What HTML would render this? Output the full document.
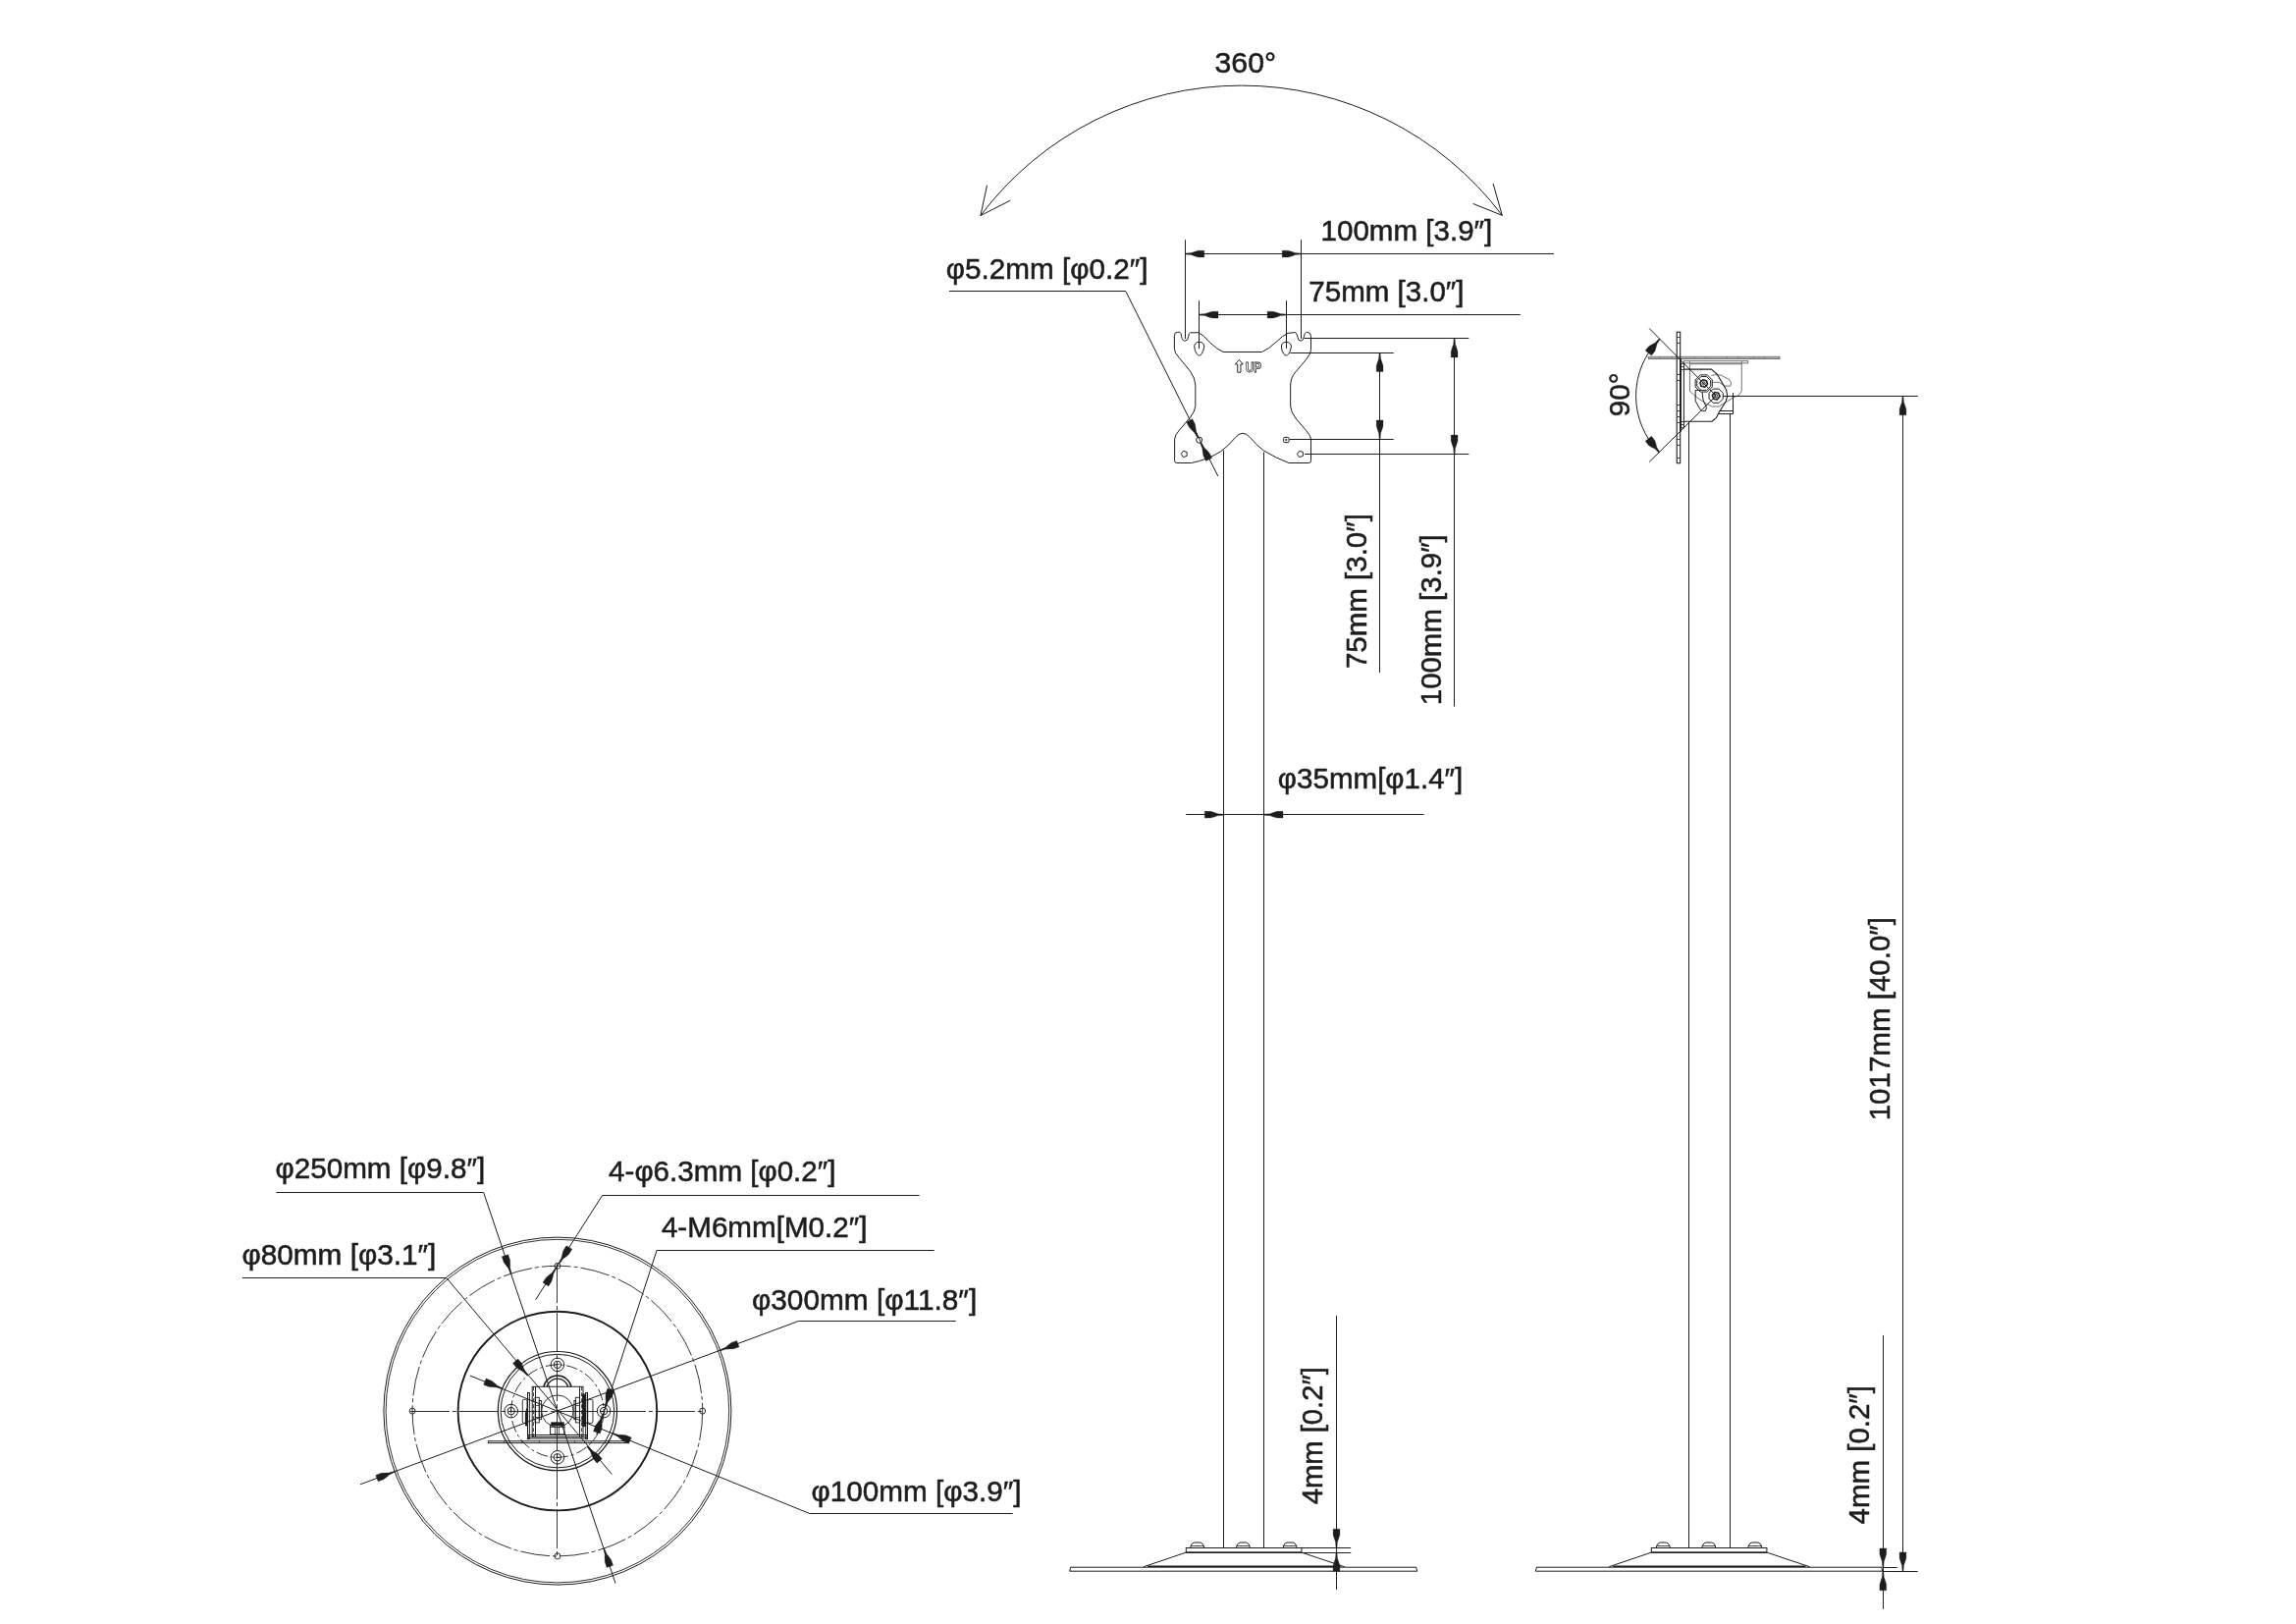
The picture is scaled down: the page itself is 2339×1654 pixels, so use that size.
<!DOCTYPE html>
<html><head><meta charset="utf-8"><title>Dimensions</title>
<style>
html,body{margin:0;padding:0;background:#fff;}
body{width:2339px;height:1654px;overflow:hidden;font-family:"Liberation Sans",sans-serif;}
svg{display:block;}
svg{filter:grayscale(1);}
svg text{font-family:"Liberation Sans",sans-serif;fill:#1d1d1d;stroke:#1d1d1d;stroke-width:0.55px;}
</style></head><body>
<svg width="2339" height="1654" viewBox="0 0 2339 1654">
<rect x="0" y="0" width="2339" height="1654" fill="#ffffff"/>
<path d="M998.9 219.6 A332.8 332.8 0 0 1 1530.3 219.4" fill="none" stroke="#1d1d1d" stroke-width="1.0" stroke-linejoin="round"/>
<polyline points="1005.5,188.7 998.9,219.6 1029.4,204.1" fill="none" stroke="#1d1d1d" stroke-width="1.0" stroke-linejoin="round"/>
<polyline points="1521.1,187 1530.3,219.4 1500.6,207.4" fill="none" stroke="#1d1d1d" stroke-width="1.0" stroke-linejoin="round"/>
<text x="1237.55" y="73.5" font-size="29.6" text-anchor="start" textLength="62.46" lengthAdjust="spacingAndGlyphs">360°</text>
<path d="M1196.33 341.75 Q1196.33 338.3 1199.78 338.3 L1201.75 338.3 Q1203.23 338.79 1203.52 342.24 Q1204.21 347.17 1207.17 347.17 Q1210.42 346.87 1210.81 342.73 Q1210.81 339.29 1212.59 338.79 L1220.96 338.79 Q1226.38 341.26 1232.29 348.65 Q1240.17 356.03 1246.08 358.5 L1285.49 358.5 Q1292.39 355.54 1300.27 348.15 Q1307.17 341.26 1312.09 339.29 L1319.48 338.6 Q1321.45 339.29 1321.95 343.23 Q1322.44 347.17 1325.1 347.17 Q1328.05 346.87 1328.45 342.73 Q1328.84 338.3 1331.8 338.3 Q1335.54 338.79 1335.54 342.73 L1335.54 356.53 Q1335.25 360.47 1330.81 365.89 L1319.98 378.69 Q1315.05 384.11 1314.66 392 L1314.66 413.67 Q1315.25 420.07 1319.98 425.99 L1330.81 438.79 Q1335.25 443.72 1335.54 447.17 L1335.54 469.33 Q1335.54 471.5 1333.28 471.5 L1313.08 471.5 Q1300.27 466.87 1287.46 458.99 Q1279.58 453.08 1273.67 445.69 Q1269.73 441.26 1265.79 441.26 Q1261.85 441.45 1258.4 445.69 Q1252 453.57 1244.11 459.48 Q1230.32 468.35 1213.57 471.5 L1198.79 471.5 Q1196.63 471.5 1196.63 469.33 L1196.63 447.17 Q1196.82 443.23 1201.26 438.3 L1212.59 425 Q1217.51 418.6 1217.81 413.67 L1217.81 392 Q1217.51 385.1 1212.59 378.2 L1201.26 364.41 Q1196.63 359.48 1196.43 355.54 Z" fill="none" stroke="#1d1d1d" stroke-width="1.0" stroke-linejoin="round"/>
<path d="M1216.72 353.08 Q1216.92 348.45 1221.65 348.25 Q1226.58 348.45 1226.77 353.08 Q1226.08 357.51 1224.11 360.47 Q1221.65 363.62 1219.19 360.47 Q1216.92 357.51 1216.72 353.08 Z" fill="none" stroke="#1d1d1d" stroke-width="1.0" stroke-linejoin="round"/>
<path d="M1305.39 353.08 Q1305.59 348.45 1310.32 348.25 Q1315.25 348.45 1315.44 353.08 Q1314.75 357.51 1312.78 360.47 Q1310.32 363.62 1307.86 360.47 Q1305.59 357.51 1305.39 353.08 Z" fill="none" stroke="#1d1d1d" stroke-width="1.0" stroke-linejoin="round"/>
<circle cx="1221.65" cy="448.15" r="3" fill="none" stroke="#1d1d1d" stroke-width="1.0"/>
<rect x="1307.66" y="445.39" width="5.42" height="5.22" rx="1.2" fill="none" stroke="#1d1d1d" stroke-width="1"/>
<circle cx="1310.32" cy="447.96" r="0.6" fill="#1d1d1d" stroke="#1d1d1d" stroke-width="1.0"/>
<polygon points="1203.18,462.44 1205.46,459.3 1209.15,460.5 1209.15,464.38 1205.46,465.58" fill="none" stroke="#1d1d1d" stroke-width="1.0" stroke-linejoin="round"/>
<polygon points="1321.4,462.44 1323.68,459.3 1327.37,460.5 1327.37,464.38 1323.68,465.58" fill="none" stroke="#1d1d1d" stroke-width="1.0" stroke-linejoin="round"/>
<path d="M1262.34 366.38 L1266.34 370.98 L1263.94 370.98 L1263.94 379.19 L1260.74 379.19 L1260.74 370.98 L1258.34 370.98 Z" fill="none" stroke="#1d1d1d" stroke-width="0.95" stroke-linejoin="round"/>
<text x="1268.94" y="378.69" font-size="14.5" font-weight="bold" style="fill:#fff;stroke:#1d1d1d;stroke-width:0.85px" textLength="16.2" lengthAdjust="spacingAndGlyphs">UP</text>
<line x1="1246.5" y1="458.5" x2="1246.5" y2="1576.5" stroke="#1d1d1d" stroke-width="1.0"/>
<line x1="1287.5" y1="460.5" x2="1287.5" y2="1576.5" stroke="#1d1d1d" stroke-width="1.0"/>
<line x1="1207.5" y1="244.3" x2="1207.5" y2="345" stroke="#1d1d1d" stroke-width="1.0"/>
<line x1="1325.5" y1="244.3" x2="1325.5" y2="345" stroke="#1d1d1d" stroke-width="1.0"/>
<line x1="1207.5" y1="258.5" x2="1583" y2="258.5" stroke="#1d1d1d" stroke-width="1.0"/>
<polygon points="1207.5,258.09 1213.68,257.58 1216.38,256.56 1220.82,255.2 1226.8,255.2 1226.8,262 1220.82,262 1216.38,260.64 1213.68,259.62 1207.5,259.11" fill="#1d1d1d" stroke="#1d1d1d" stroke-width="0.3"/>
<polygon points="1325.5,259.11 1319.32,259.62 1316.62,260.64 1312.18,262 1306.2,262 1306.2,255.2 1312.18,255.2 1316.62,256.56 1319.32,257.58 1325.5,258.09" fill="#1d1d1d" stroke="#1d1d1d" stroke-width="0.3"/>
<text x="1345.55" y="244.6" font-size="29.6" text-anchor="start" textLength="174.76" lengthAdjust="spacingAndGlyphs">100mm [3.9″]</text>
<line x1="1221.5" y1="306.2" x2="1221.5" y2="355" stroke="#1d1d1d" stroke-width="1.0"/>
<line x1="1310.5" y1="306.2" x2="1310.5" y2="355" stroke="#1d1d1d" stroke-width="1.0"/>
<line x1="1221.7" y1="320.5" x2="1548.8" y2="320.5" stroke="#1d1d1d" stroke-width="1.0"/>
<polygon points="1221.7,320.09 1227.88,319.58 1230.58,318.56 1235.02,317.2 1241,317.2 1241,324 1235.02,324 1230.58,322.64 1227.88,321.62 1221.7,321.11" fill="#1d1d1d" stroke="#1d1d1d" stroke-width="0.3"/>
<polygon points="1310.4,321.11 1304.22,321.62 1301.52,322.64 1297.08,324 1291.1,324 1291.1,317.2 1297.08,317.2 1301.52,318.56 1304.22,319.58 1310.4,320.09" fill="#1d1d1d" stroke="#1d1d1d" stroke-width="0.3"/>
<text x="1333.29" y="306.5" font-size="29.6" text-anchor="start" textLength="158.22" lengthAdjust="spacingAndGlyphs">75mm [3.0″]</text>
<line x1="1328.5" y1="344.5" x2="1496.4" y2="344.5" stroke="#1d1d1d" stroke-width="1.0"/>
<line x1="1314.4" y1="359.5" x2="1419.7" y2="359.5" stroke="#1d1d1d" stroke-width="1.0"/>
<line x1="1313.5" y1="447.5" x2="1419.7" y2="447.5" stroke="#1d1d1d" stroke-width="1.0"/>
<line x1="1329" y1="462.5" x2="1496.4" y2="462.5" stroke="#1d1d1d" stroke-width="1.0"/>
<line x1="1405.5" y1="359.3" x2="1405.5" y2="685.1" stroke="#1d1d1d" stroke-width="1.0"/>
<polygon points="1406.11,359.3 1406.62,365.48 1407.64,368.18 1409,372.62 1409,378.6 1402.2,378.6 1402.2,372.62 1403.56,368.18 1404.58,365.48 1405.09,359.3" fill="#1d1d1d" stroke="#1d1d1d" stroke-width="0.3"/>
<polygon points="1405.09,447.2 1404.58,441.02 1403.56,438.32 1402.2,433.88 1402.2,427.9 1409,427.9 1409,433.88 1407.64,438.32 1406.62,441.02 1406.11,447.2" fill="#1d1d1d" stroke="#1d1d1d" stroke-width="0.3"/>
<line x1="1481.5" y1="344.7" x2="1481.5" y2="719.5" stroke="#1d1d1d" stroke-width="1.0"/>
<polygon points="1482.11,344.7 1482.62,350.88 1483.64,353.58 1485,358.02 1485,364 1478.2,364 1478.2,358.02 1479.56,353.58 1480.58,350.88 1481.09,344.7" fill="#1d1d1d" stroke="#1d1d1d" stroke-width="0.3"/>
<polygon points="1481.09,462.4 1480.58,456.22 1479.56,453.52 1478.2,449.08 1478.2,443.1 1485,443.1 1485,449.08 1483.64,453.52 1482.62,456.22 1482.11,462.4" fill="#1d1d1d" stroke="#1d1d1d" stroke-width="0.3"/>
<text x="1392" y="681.11" font-size="29.6" text-anchor="start" transform="rotate(-90 1392 681.11)" textLength="158.02" lengthAdjust="spacingAndGlyphs">75mm [3.0″]</text>
<text x="1467.6" y="718.24" font-size="29.6" text-anchor="start" transform="rotate(-90 1467.6 718.24)" textLength="174.04" lengthAdjust="spacingAndGlyphs">100mm [3.9″]</text>
<text x="963.77" y="283.5" font-size="29.6" text-anchor="start" textLength="205.65" lengthAdjust="spacingAndGlyphs">φ5.2mm [φ0.2″]</text>
<line x1="967" y1="296.5" x2="1146.8" y2="296.5" stroke="#1d1d1d" stroke-width="1.0"/>
<line x1="1146.8" y1="296.6" x2="1240.8" y2="485" stroke="#1d1d1d" stroke-width="1.0"/>
<polygon points="1219.85,445.7 1216.64,440.4 1214.52,438.43 1211.32,435.07 1208.65,429.72 1214.74,426.68 1217.41,432.03 1218.17,436.61 1218.47,439.49 1220.77,445.24" fill="#1d1d1d" stroke="#1d1d1d" stroke-width="0.3"/>
<polygon points="1223.45,450.61 1226.66,455.91 1228.78,457.87 1231.98,461.24 1234.65,466.59 1228.56,469.62 1225.89,464.27 1225.13,459.69 1224.83,456.82 1222.53,451.06" fill="#1d1d1d" stroke="#1d1d1d" stroke-width="0.3"/>
<text x="1301.87" y="803.3" font-size="29.6" text-anchor="start" textLength="188.43" lengthAdjust="spacingAndGlyphs">φ35mm[φ1.4″]</text>
<line x1="1208.2" y1="829.5" x2="1450.5" y2="829.5" stroke="#1d1d1d" stroke-width="1.0"/>
<polygon points="1246.6,830.21 1240.42,830.72 1237.72,831.74 1233.28,833.1 1227.3,833.1 1227.3,826.3 1233.28,826.3 1237.72,827.66 1240.42,828.68 1246.6,829.19" fill="#1d1d1d" stroke="#1d1d1d" stroke-width="0.3"/>
<polygon points="1287.7,829.19 1293.88,828.68 1296.58,827.66 1301.02,826.3 1307,826.3 1307,833.1 1301.02,833.1 1296.58,831.74 1293.88,830.72 1287.7,830.21" fill="#1d1d1d" stroke="#1d1d1d" stroke-width="0.3"/>
<path d="M1090.7 1596.2 L1442.7 1596.2 L1443.7 1600.2 L1089.7 1600.2 Z" fill="none" stroke="#1d1d1d" stroke-width="1.0" stroke-linejoin="round"/>
<line x1="1169.2" y1="1595.3" x2="1365.6" y2="1595.3" stroke="#1d1d1d" stroke-width="1.6"/>
<line x1="1165.2" y1="1595.7" x2="1208.3" y2="1581.1" stroke="#1d1d1d" stroke-width="1.0"/>
<line x1="1325.9" y1="1581.1" x2="1369.6" y2="1595.7" stroke="#1d1d1d" stroke-width="1.0"/>
<rect x="1208.3" y="1576.5" width="117.6" height="4.6" fill="none" stroke="#1d1d1d" stroke-width="1.0"/>
<line x1="1208.3" y1="1581.3" x2="1325.9" y2="1581.3" stroke="#1d1d1d" stroke-width="1.5"/>
<path d="M1212.7 1576.5 L1213.3 1574 Q1214.7 1571 1216.7 1571 L1222.7 1571 Q1224.7 1571 1226.1 1574 L1226.7 1576.5" fill="none" stroke="#1d1d1d" stroke-width="1.0" stroke-linejoin="round"/>
<line x1="1213.3" y1="1574.5" x2="1226.1" y2="1574.5" stroke="#1d1d1d" stroke-width="0.8"/>
<path d="M1259.4 1576.5 L1260 1574 Q1261.4 1571 1263.4 1571 L1269.4 1571 Q1271.4 1571 1272.8 1574 L1273.4 1576.5" fill="none" stroke="#1d1d1d" stroke-width="1.0" stroke-linejoin="round"/>
<line x1="1260" y1="1574.5" x2="1272.8" y2="1574.5" stroke="#1d1d1d" stroke-width="0.8"/>
<path d="M1307.1 1576.5 L1307.7 1574 Q1309.1 1571 1311.1 1571 L1317.1 1571 Q1319.1 1571 1320.5 1574 L1321.1 1576.5" fill="none" stroke="#1d1d1d" stroke-width="1.0" stroke-linejoin="round"/>
<line x1="1307.7" y1="1574.5" x2="1320.5" y2="1574.5" stroke="#1d1d1d" stroke-width="0.8"/>
<line x1="1325.9" y1="1576.5" x2="1376.2" y2="1576.5" stroke="#1d1d1d" stroke-width="1.0"/>
<line x1="1325.9" y1="1581.5" x2="1376.2" y2="1581.5" stroke="#1d1d1d" stroke-width="1.0"/>
<line x1="1361.5" y1="1340.1" x2="1361.5" y2="1619" stroke="#1d1d1d" stroke-width="1.0"/>
<polygon points="1360.99,1576.5 1360.48,1570.32 1359.46,1567.62 1358.1,1563.18 1358.1,1557.2 1364.9,1557.2 1364.9,1563.18 1363.54,1567.62 1362.52,1570.32 1362.01,1576.5" fill="#1d1d1d" stroke="#1d1d1d" stroke-width="0.3"/>
<polygon points="1362.01,1581.1 1362.52,1587.28 1363.54,1589.98 1364.9,1594.42 1364.9,1600.4 1358.1,1600.4 1358.1,1594.42 1359.46,1589.98 1360.48,1587.28 1360.99,1581.1" fill="#1d1d1d" stroke="#1d1d1d" stroke-width="0.3"/>
<text x="1347.4" y="1532.17" font-size="29.6" text-anchor="start" transform="rotate(-90 1347.4 1532.17)" textLength="140.05" lengthAdjust="spacingAndGlyphs">4mm [0.2″]</text>
<rect x="1679.2" y="363.3" width="133.8" height="2.2" fill="none" stroke="#707070" stroke-width="1.0"/>
<line x1="1679.2" y1="364.5" x2="1813" y2="364.5" stroke="#707070" stroke-width="0.6"/>
<line x1="1690.5" y1="363.3" x2="1690.5" y2="365.5" stroke="#707070" stroke-width="0.8"/>
<line x1="1703.5" y1="363.3" x2="1703.5" y2="365.5" stroke="#707070" stroke-width="0.8"/>
<line x1="1726.5" y1="363.3" x2="1726.5" y2="365.5" stroke="#707070" stroke-width="0.8"/>
<line x1="1737.5" y1="363.3" x2="1737.5" y2="365.5" stroke="#707070" stroke-width="0.8"/>
<line x1="1759.5" y1="363.3" x2="1759.5" y2="365.5" stroke="#707070" stroke-width="0.8"/>
<line x1="1770.5" y1="363.3" x2="1770.5" y2="365.5" stroke="#707070" stroke-width="0.8"/>
<line x1="1786.5" y1="363.3" x2="1786.5" y2="365.5" stroke="#707070" stroke-width="0.8"/>
<line x1="1797.5" y1="363.3" x2="1797.5" y2="365.5" stroke="#707070" stroke-width="0.8"/>
<rect x="1715.4" y="367.6" width="65.3" height="2.2" fill="none" stroke="#707070" stroke-width="1.0"/>
<line x1="1721.5" y1="367.6" x2="1721.5" y2="369.8" stroke="#707070" stroke-width="0.8"/>
<line x1="1774.5" y1="367.6" x2="1774.5" y2="369.8" stroke="#707070" stroke-width="0.8"/>
<polyline points="1721.4,369.93 1721.4,398.34 1728.09,404.34 1736.87,410.35 1744.26,414.04 1751.19,414.04 1759.97,408.5 1766.89,404.34 1771.51,402.49 1774.28,398.34 1774.28,369.93" fill="none" stroke="#707070" stroke-width="1.0" stroke-linejoin="round"/>
<polyline points="1721.86,370.72 1774.05,370.72" fill="none" stroke="#707070" stroke-width="1.0" stroke-linejoin="round"/>
<polyline points="1743.34,382.4 1748.42,381.71 1753.5,382.17 1761.81,386.79 1763.66,390.02 1762.74,393.26 1757.19,393.03 1751.19,389.33 1745.18,389.33" fill="none" stroke="#707070" stroke-width="1.0" stroke-linejoin="round"/>
<rect x="1708.2" y="338.2" width="3.5" height="133.5" fill="none" stroke="#1d1d1d" stroke-width="1.1"/>
<line x1="1708.2" y1="343.5" x2="1711.7" y2="343.5" stroke="#1d1d1d" stroke-width="0.8"/>
<line x1="1708.2" y1="349.5" x2="1711.7" y2="349.5" stroke="#1d1d1d" stroke-width="0.8"/>
<line x1="1708.2" y1="381.5" x2="1711.7" y2="381.5" stroke="#1d1d1d" stroke-width="0.8"/>
<line x1="1708.2" y1="387.5" x2="1711.7" y2="387.5" stroke="#1d1d1d" stroke-width="0.8"/>
<line x1="1708.2" y1="412.5" x2="1711.7" y2="412.5" stroke="#1d1d1d" stroke-width="0.8"/>
<line x1="1708.2" y1="418.5" x2="1711.7" y2="418.5" stroke="#1d1d1d" stroke-width="0.8"/>
<line x1="1708.2" y1="424.5" x2="1711.7" y2="424.5" stroke="#1d1d1d" stroke-width="0.8"/>
<line x1="1708.2" y1="430.5" x2="1711.7" y2="430.5" stroke="#1d1d1d" stroke-width="0.8"/>
<line x1="1708.2" y1="447.5" x2="1711.7" y2="447.5" stroke="#1d1d1d" stroke-width="0.8"/>
<line x1="1708.2" y1="453.5" x2="1711.7" y2="453.5" stroke="#1d1d1d" stroke-width="0.8"/>
<line x1="1708.2" y1="466.5" x2="1711.7" y2="466.5" stroke="#1d1d1d" stroke-width="0.8"/>
<line x1="1711.9" y1="365" x2="1711.9" y2="440" stroke="#1d1d1d" stroke-width="1.6"/>
<rect x="1712.3" y="370.2" width="3.1" height="65.6" fill="none" stroke="#1d1d1d" stroke-width="1.0"/>
<line x1="1712.3" y1="376.5" x2="1715.4" y2="376.5" stroke="#1d1d1d" stroke-width="0.8"/>
<line x1="1712.3" y1="373.5" x2="1715.4" y2="373.5" stroke="#1d1d1d" stroke-width="0.8"/>
<line x1="1712.3" y1="429.5" x2="1715.4" y2="429.5" stroke="#1d1d1d" stroke-width="0.8"/>
<line x1="1712.3" y1="432.5" x2="1715.4" y2="432.5" stroke="#1d1d1d" stroke-width="0.8"/>
<polyline points="1715.39,376.17 1743.57,376.17 1749.34,381.25 1758.58,396.95 1759.73,403.42 1758.12,408.96 1751.19,420.05 1748.42,425.59 1743.8,429.28 1715.39,429.28" fill="none" stroke="#1d1d1d" stroke-width="1.1" stroke-linejoin="round"/>
<polygon points="1744.31,394.04 1739.27,399.08 1732.16,399.08 1727.12,394.04 1727.12,386.93 1732.16,381.89 1739.27,381.89 1744.31,386.93" fill="none" stroke="#1d1d1d" stroke-width="1.0" stroke-linejoin="round"/>
<polygon points="1742.65,393.36 1738.59,397.41 1732.85,397.41 1728.79,393.36 1728.79,387.61 1732.85,383.56 1738.59,383.56 1742.65,387.61" fill="none" stroke="#1d1d1d" stroke-width="1.0" stroke-linejoin="round"/>
<polygon points="1739.48,391.49 1736.73,394.25 1732.96,393.24 1731.95,389.48 1734.71,386.72 1738.47,387.73" fill="none" stroke="#1d1d1d" stroke-width="1.6" stroke-linejoin="round"/>
<circle cx="1735.72" cy="390.48" r="1.5" fill="none" stroke="#1d1d1d" stroke-width="1.0"/>
<polygon points="1755.3,406.13 1751.13,410.3 1745.24,410.3 1741.07,406.13 1741.07,400.24 1745.24,396.07 1751.13,396.07 1755.3,400.24" fill="none" stroke="#1d1d1d" stroke-width="1.0" stroke-linejoin="round"/>
<polygon points="1752.03,403.86 1749.52,406.85 1745.68,406.17 1744.35,402.51 1746.85,399.52 1750.69,400.2" fill="none" stroke="#1d1d1d" stroke-width="1.6" stroke-linejoin="round"/>
<circle cx="1748.19" cy="403.19" r="1.6" fill="none" stroke="#1d1d1d" stroke-width="1.0"/>
<polyline points="1732.71,397.41 1727.17,397.41 1727.17,408.5 1732.25,417.27 1734.56,418.66 1737.33,418.66 1738.49,415.43 1735.02,407.11 1734.1,399.72" fill="none" stroke="#1d1d1d" stroke-width="1.0" stroke-linejoin="round"/>
<line x1="1765.5" y1="400.2" x2="1765.5" y2="421.6" stroke="#1d1d1d" stroke-width="1.0"/>
<line x1="1751.7" y1="418.5" x2="1765.5" y2="418.5" stroke="#1d1d1d" stroke-width="1.0"/>
<line x1="1750.6" y1="421.5" x2="1765.5" y2="421.5" stroke="#1d1d1d" stroke-width="1.0"/>
<line x1="1720.5" y1="429.2" x2="1720.5" y2="1576.5" stroke="#1d1d1d" stroke-width="1.0"/>
<line x1="1762.5" y1="421.5" x2="1762.5" y2="1576.5" stroke="#1d1d1d" stroke-width="1.0"/>
<line x1="1755" y1="403.5" x2="1953.8" y2="403.5" stroke="#1d1d1d" stroke-width="1.0"/>
<line x1="1938.5" y1="403.5" x2="1938.5" y2="1600.2" stroke="#1d1d1d" stroke-width="1.0"/>
<polygon points="1939.01,403.5 1939.52,409.68 1940.54,412.38 1941.9,416.82 1941.9,422.8 1935.1,422.8 1935.1,416.82 1936.46,412.38 1937.48,409.68 1937.99,403.5" fill="#1d1d1d" stroke="#1d1d1d" stroke-width="0.3"/>
<polygon points="1937.99,1600.2 1937.48,1594.02 1936.46,1591.32 1935.1,1586.88 1935.1,1580.9 1941.9,1580.9 1941.9,1586.88 1940.54,1591.32 1939.52,1594.02 1939.01,1600.2" fill="#1d1d1d" stroke="#1d1d1d" stroke-width="0.3"/>
<text x="1924.6" y="1141.35" font-size="29.6" text-anchor="start" transform="rotate(-90 1924.6 1141.35)" textLength="207.35" lengthAdjust="spacingAndGlyphs">1017mm [40.0″]</text>
<line x1="1680.2" y1="334.5" x2="1748.19" y2="403.19" stroke="#1d1d1d" stroke-width="1.0"/>
<line x1="1680.2" y1="470.5" x2="1748.19" y2="403.19" stroke="#1d1d1d" stroke-width="1.0"/>
<path d="M1690.49 345.49 A81.6 81.6 0 0 0 1690.49 460.89" fill="none" stroke="#1d1d1d" stroke-width="1.0" stroke-linejoin="round"/>
<polygon points="1690.96,345.86 1687.84,350.74 1687.21,353.46 1685.89,357.7 1682.42,362.07 1676.16,357.09 1679.63,352.72 1683.46,350.48 1685.96,349.25 1690.02,345.11" fill="#1d1d1d" stroke="#1d1d1d" stroke-width="0.3"/>
<polygon points="1690.02,461.26 1685.96,457.12 1683.46,455.9 1679.63,453.65 1676.16,449.29 1682.42,444.31 1685.89,448.68 1687.21,452.91 1687.84,455.63 1690.96,460.51" fill="#1d1d1d" stroke="#1d1d1d" stroke-width="0.3"/>
<text x="1660" y="424.29" font-size="29.6" text-anchor="start" transform="rotate(-90 1660 424.29)" textLength="44.77" lengthAdjust="spacingAndGlyphs">90°</text>
<path d="M1565.4 1596.2 L1916.7 1596.2 L1917.7 1600.2 L1564.4 1600.2 Z" fill="none" stroke="#1d1d1d" stroke-width="1.0" stroke-linejoin="round"/>
<line x1="1643.2" y1="1595.3" x2="1839.5" y2="1595.3" stroke="#1d1d1d" stroke-width="1.6"/>
<line x1="1639.2" y1="1595.7" x2="1682.3" y2="1581.1" stroke="#1d1d1d" stroke-width="1.0"/>
<line x1="1799.9" y1="1581.1" x2="1843.5" y2="1595.7" stroke="#1d1d1d" stroke-width="1.0"/>
<rect x="1682.3" y="1576.5" width="117.6" height="4.6" fill="none" stroke="#1d1d1d" stroke-width="1.0"/>
<line x1="1682.3" y1="1581.3" x2="1799.9" y2="1581.3" stroke="#1d1d1d" stroke-width="1.5"/>
<path d="M1687.3 1576.5 L1687.9 1574 Q1689.3 1571 1691.3 1571 L1697.3 1571 Q1699.3 1571 1700.7 1574 L1701.3 1576.5" fill="none" stroke="#1d1d1d" stroke-width="1.0" stroke-linejoin="round"/>
<line x1="1687.9" y1="1574.5" x2="1700.7" y2="1574.5" stroke="#1d1d1d" stroke-width="0.8"/>
<path d="M1733.8 1576.5 L1734.4 1574 Q1735.8 1571 1737.8 1571 L1743.8 1571 Q1745.8 1571 1747.2 1574 L1747.8 1576.5" fill="none" stroke="#1d1d1d" stroke-width="1.0" stroke-linejoin="round"/>
<line x1="1734.4" y1="1574.5" x2="1747.2" y2="1574.5" stroke="#1d1d1d" stroke-width="0.8"/>
<path d="M1780.8 1576.5 L1781.4 1574 Q1782.8 1571 1784.8 1571 L1790.8 1571 Q1792.8 1571 1794.2 1574 L1794.8 1576.5" fill="none" stroke="#1d1d1d" stroke-width="1.0" stroke-linejoin="round"/>
<line x1="1781.4" y1="1574.5" x2="1794.2" y2="1574.5" stroke="#1d1d1d" stroke-width="0.8"/>
<line x1="1917.7" y1="1596.5" x2="1932.8" y2="1596.5" stroke="#1d1d1d" stroke-width="1.0"/>
<line x1="1917.7" y1="1600.5" x2="1953.7" y2="1600.5" stroke="#1d1d1d" stroke-width="1.0"/>
<line x1="1918.5" y1="1359.9" x2="1918.5" y2="1638.8" stroke="#1d1d1d" stroke-width="1.0"/>
<polygon points="1917.79,1596.2 1917.28,1590.02 1916.26,1587.32 1914.9,1582.88 1914.9,1576.9 1921.7,1576.9 1921.7,1582.88 1920.34,1587.32 1919.32,1590.02 1918.81,1596.2" fill="#1d1d1d" stroke="#1d1d1d" stroke-width="0.3"/>
<polygon points="1918.81,1600.4 1919.32,1606.58 1920.34,1609.28 1921.7,1613.72 1921.7,1619.7 1914.9,1619.7 1914.9,1613.72 1916.26,1609.28 1917.28,1606.58 1917.79,1600.4" fill="#1d1d1d" stroke="#1d1d1d" stroke-width="0.3"/>
<text x="1903.8" y="1552.48" font-size="29.6" text-anchor="start" transform="rotate(-90 1903.8 1552.48)" textLength="141.48" lengthAdjust="spacingAndGlyphs">4mm [0.2″]</text>
<circle cx="567.9" cy="1437.1" r="177" fill="none" stroke="#1d1d1d" stroke-width="1.0"/>
<circle cx="567.9" cy="1437.1" r="174.8" fill="none" stroke="#1d1d1d" stroke-width="0.9"/>
<circle cx="567.9" cy="1437.1" r="147.8" fill="none" stroke="#1d1d1d" stroke-width="0.9" stroke-dasharray="30 3 4 3"/>
<circle cx="567.9" cy="1437.1" r="101.3" fill="none" stroke="#1d1d1d" stroke-width="1.9"/>
<circle cx="567.9" cy="1437.1" r="60.6" fill="none" stroke="#1d1d1d" stroke-width="1.2"/>
<circle cx="567.9" cy="1437.1" r="57.8" fill="none" stroke="#1d1d1d" stroke-width="1.0"/>
<circle cx="567.9" cy="1437.1" r="47.2" fill="none" stroke="#1d1d1d" stroke-width="0.9" stroke-dasharray="12 3 3 3"/>
<circle cx="567.9" cy="1437.1" r="16.2" fill="none" stroke="#1d1d1d" stroke-width="0.9"/>
<line x1="417.9" y1="1437.5" x2="717.9" y2="1437.5" stroke="#1d1d1d" stroke-width="0.9" stroke-dasharray="40 3 4 3"/>
<line x1="567.5" y1="1287.1" x2="567.5" y2="1587.1" stroke="#1d1d1d" stroke-width="0.9" stroke-dasharray="40 3 4 3"/>
<circle cx="715.7" cy="1437.1" r="3" fill="none" stroke="#1d1d1d" stroke-width="0.9"/>
<circle cx="615.1" cy="1437.1" r="6.8" fill="none" stroke="#1d1d1d" stroke-width="1.0"/>
<circle cx="615.1" cy="1437.1" r="3.7" fill="none" stroke="#1d1d1d" stroke-width="1.0"/>
<line x1="612.7" y1="1437.5" x2="617.5" y2="1437.5" stroke="#1d1d1d" stroke-width="0.7"/>
<line x1="615.5" y1="1434.7" x2="615.5" y2="1439.5" stroke="#1d1d1d" stroke-width="0.7"/>
<circle cx="420.1" cy="1437.1" r="3" fill="none" stroke="#1d1d1d" stroke-width="0.9"/>
<circle cx="520.7" cy="1437.1" r="6.8" fill="none" stroke="#1d1d1d" stroke-width="1.0"/>
<circle cx="520.7" cy="1437.1" r="3.7" fill="none" stroke="#1d1d1d" stroke-width="1.0"/>
<line x1="518.3" y1="1437.5" x2="523.1" y2="1437.5" stroke="#1d1d1d" stroke-width="0.7"/>
<line x1="520.5" y1="1434.7" x2="520.5" y2="1439.5" stroke="#1d1d1d" stroke-width="0.7"/>
<circle cx="567.9" cy="1584.9" r="3" fill="none" stroke="#1d1d1d" stroke-width="0.9"/>
<circle cx="567.9" cy="1484.3" r="6.8" fill="none" stroke="#1d1d1d" stroke-width="1.0"/>
<circle cx="567.9" cy="1484.3" r="3.7" fill="none" stroke="#1d1d1d" stroke-width="1.0"/>
<line x1="565.5" y1="1484.5" x2="570.3" y2="1484.5" stroke="#1d1d1d" stroke-width="0.7"/>
<line x1="567.5" y1="1481.9" x2="567.5" y2="1486.7" stroke="#1d1d1d" stroke-width="0.7"/>
<circle cx="567.9" cy="1289.3" r="3" fill="none" stroke="#1d1d1d" stroke-width="0.9"/>
<circle cx="567.9" cy="1389.9" r="6.8" fill="none" stroke="#1d1d1d" stroke-width="1.0"/>
<circle cx="567.9" cy="1389.9" r="3.7" fill="none" stroke="#1d1d1d" stroke-width="1.0"/>
<line x1="565.5" y1="1389.5" x2="570.3" y2="1389.5" stroke="#1d1d1d" stroke-width="0.7"/>
<line x1="567.5" y1="1387.5" x2="567.5" y2="1392.3" stroke="#1d1d1d" stroke-width="0.7"/>
<rect x="542.21" y="1412.27" width="51.81" height="51.28" fill="none" stroke="#1d1d1d" stroke-width="1.0"/>
<line x1="545.5" y1="1412.27" x2="545.5" y2="1463.55" stroke="#1d1d1d" stroke-width="1.0"/>
<line x1="590.5" y1="1412.27" x2="590.5" y2="1463.55" stroke="#1d1d1d" stroke-width="1.0"/>
<line x1="543.5" y1="1412.27" x2="543.5" y2="1463.55" stroke="#1d1d1d" stroke-width="0.8" stroke-dasharray="4 2"/>
<line x1="592.5" y1="1412.27" x2="592.5" y2="1463.55" stroke="#1d1d1d" stroke-width="0.8" stroke-dasharray="4 2"/>
<rect x="537.5" y="1418.5" width="1.9" height="47.1" fill="none" stroke="#1d1d1d" stroke-width="1.0"/>
<rect x="596.7" y="1418.5" width="1.8" height="47.1" fill="none" stroke="#1d1d1d" stroke-width="1.0"/>
<polygon points="536.6,1434.8 537.5,1434.8 537.5,1452 535.4,1452 535.4,1440" fill="#1d1d1d" stroke="#1d1d1d" stroke-width="1.0" stroke-linejoin="round"/>
<rect x="593.6" y="1420.1" width="3" height="32.5" fill="#1d1d1d" stroke="#1d1d1d" stroke-width="1.0"/>
<rect x="538.03" y="1461.46" width="60.18" height="3.66" fill="none" stroke="#1d1d1d" stroke-width="1.0"/>
<line x1="538.03" y1="1463.5" x2="598.21" y2="1463.5" stroke="#1d1d1d" stroke-width="0.8"/>
<rect x="497.42" y="1467.74" width="142.12" height="1.88" fill="none" stroke="#1d1d1d" stroke-width="1.0"/>
<line x1="513.5" y1="1467.74" x2="513.5" y2="1469.62" stroke="#1d1d1d" stroke-width="0.7"/>
<line x1="531.5" y1="1467.74" x2="531.5" y2="1469.62" stroke="#1d1d1d" stroke-width="0.7"/>
<line x1="549.5" y1="1467.74" x2="549.5" y2="1469.62" stroke="#1d1d1d" stroke-width="0.7"/>
<line x1="585.5" y1="1467.74" x2="585.5" y2="1469.62" stroke="#1d1d1d" stroke-width="0.7"/>
<line x1="602.5" y1="1467.74" x2="602.5" y2="1469.62" stroke="#1d1d1d" stroke-width="0.7"/>
<line x1="620.5" y1="1467.74" x2="620.5" y2="1469.62" stroke="#1d1d1d" stroke-width="0.7"/>
<path d="M553.86 1412.3 A14.4 14.4 0 0 1 581.94 1412.3" fill="none" stroke="#1d1d1d" stroke-width="1.5" stroke-linejoin="round"/>
<path d="M557.06 1412.3 A11.3 11.3 0 0 1 578.74 1412.3" fill="none" stroke="#1d1d1d" stroke-width="1.3" stroke-linejoin="round"/>
<rect x="560.6" y="1451.3" width="14.3" height="9.6" fill="none" stroke="#1d1d1d" stroke-width="1.0"/>
<rect x="561.8" y="1448.9" width="12.4" height="2.4" fill="#1d1d1d" stroke="#1d1d1d" stroke-width="1.0"/>
<line x1="560.53" y1="1453.5" x2="575.18" y2="1453.5" stroke="#1d1d1d" stroke-width="0.8"/>
<line x1="565.5" y1="1453.09" x2="565.5" y2="1460.94" stroke="#1d1d1d" stroke-width="0.7"/>
<line x1="569.5" y1="1453.09" x2="569.5" y2="1460.94" stroke="#1d1d1d" stroke-width="0.7"/>
<rect x="532.27" y="1425.35" width="4.71" height="24.07" rx="1.6" fill="none" stroke="#1d1d1d" stroke-width="0.9"/>
<line x1="532.27" y1="1437.5" x2="536.98" y2="1437.5" stroke="#1d1d1d" stroke-width="0.7"/>
<rect x="598.73" y="1425.35" width="5.23" height="24.07" rx="1.6" fill="none" stroke="#1d1d1d" stroke-width="0.9"/>
<line x1="598.73" y1="1437.5" x2="603.96" y2="1437.5" stroke="#1d1d1d" stroke-width="0.7"/>
<rect x="545.1" y="1423.3" width="4.2" height="25.6" fill="none" stroke="#1d1d1d" stroke-width="0.9"/>
<rect x="549.3" y="1426.5" width="2.1" height="19.2" fill="none" stroke="#1d1d1d" stroke-width="0.9"/>
<line x1="545.1" y1="1431.5" x2="549.3" y2="1431.5" stroke="#1d1d1d" stroke-width="0.7"/>
<line x1="545.1" y1="1437.5" x2="549.3" y2="1437.5" stroke="#1d1d1d" stroke-width="0.7"/>
<line x1="545.1" y1="1443.5" x2="549.3" y2="1443.5" stroke="#1d1d1d" stroke-width="0.7"/>
<rect x="586.4" y="1423.3" width="4" height="25.6" fill="none" stroke="#1d1d1d" stroke-width="0.9"/>
<rect x="584.9" y="1426.5" width="1.5" height="19.2" fill="none" stroke="#1d1d1d" stroke-width="0.9"/>
<line x1="586.4" y1="1431.5" x2="590.4" y2="1431.5" stroke="#1d1d1d" stroke-width="0.7"/>
<line x1="586.4" y1="1437.5" x2="590.4" y2="1437.5" stroke="#1d1d1d" stroke-width="0.7"/>
<line x1="586.4" y1="1443.5" x2="590.4" y2="1443.5" stroke="#1d1d1d" stroke-width="0.7"/>
<text x="280.47" y="1200.4" font-size="29.6" text-anchor="start" textLength="213.74" lengthAdjust="spacingAndGlyphs">φ250mm [φ9.8″]</text>
<line x1="281.3" y1="1214.5" x2="492.6" y2="1214.5" stroke="#1d1d1d" stroke-width="1.0"/>
<line x1="492.6" y1="1214.4" x2="627" y2="1612.6" stroke="#1d1d1d" stroke-width="1.0"/>
<polygon points="520.15,1297.22 517.69,1291.54 515.86,1289.3 513.15,1285.53 511.24,1279.86 517.68,1277.69 519.6,1283.36 519.73,1288 519.63,1290.88 521.12,1296.9" fill="#1d1d1d" stroke="#1d1d1d" stroke-width="0.3"/>
<polygon points="615.65,1576.98 618.11,1582.66 619.94,1584.9 622.65,1588.67 624.56,1594.34 618.12,1596.51 616.2,1590.84 616.07,1586.2 616.17,1583.32 614.68,1577.3" fill="#1d1d1d" stroke="#1d1d1d" stroke-width="0.3"/>
<text x="246.47" y="1288.2" font-size="29.6" text-anchor="start" textLength="197.85" lengthAdjust="spacingAndGlyphs">φ80mm [φ3.1″]</text>
<line x1="247" y1="1301.5" x2="455" y2="1301.5" stroke="#1d1d1d" stroke-width="1.0"/>
<line x1="455" y1="1301.7" x2="623.3" y2="1501.5" stroke="#1d1d1d" stroke-width="1.0"/>
<polygon points="537.1,1401.33 532.73,1396.93 530.21,1395.52 526.31,1393.01 522.46,1388.43 527.66,1384.05 531.51,1388.62 533.33,1392.9 534.29,1395.62 537.88,1400.67" fill="#1d1d1d" stroke="#1d1d1d" stroke-width="0.3"/>
<polygon points="598.7,1472.87 603.07,1477.27 605.59,1478.68 609.49,1481.19 613.34,1485.77 608.14,1490.15 604.29,1485.58 602.47,1481.3 601.51,1478.58 597.92,1473.53" fill="#1d1d1d" stroke="#1d1d1d" stroke-width="0.3"/>
<text x="765.97" y="1334.4" font-size="29.6" text-anchor="start" textLength="229.23" lengthAdjust="spacingAndGlyphs">φ300mm [φ11.8″]</text>
<line x1="813.4" y1="1345.5" x2="973.7" y2="1345.5" stroke="#1d1d1d" stroke-width="1.0"/>
<line x1="813.4" y1="1345.5" x2="367" y2="1511.8" stroke="#1d1d1d" stroke-width="1.0"/>
<polygon points="733.59,1374.83 739.2,1372.2 741.37,1370.3 745.06,1367.47 750.66,1365.39 753.04,1371.76 747.43,1373.85 742.8,1374.12 739.91,1374.11 733.94,1375.79" fill="#1d1d1d" stroke="#1d1d1d" stroke-width="0.3"/>
<polygon points="402.21,1499.37 396.6,1502 394.43,1503.9 390.74,1506.73 385.14,1508.81 382.76,1502.44 388.37,1500.35 393,1500.08 395.89,1500.09 401.86,1498.41" fill="#1d1d1d" stroke="#1d1d1d" stroke-width="0.3"/>
<text x="826.47" y="1528.5" font-size="29.6" text-anchor="start" textLength="214.05" lengthAdjust="spacingAndGlyphs">φ100mm [φ3.9″]</text>
<line x1="824.3" y1="1541.5" x2="1031.6" y2="1541.5" stroke="#1d1d1d" stroke-width="1.0"/>
<line x1="824.3" y1="1541.3" x2="478.9" y2="1401.1" stroke="#1d1d1d" stroke-width="1.0"/>
<polygon points="624.24,1459.42 630.16,1461.27 633.04,1461.34 637.67,1461.75 643.21,1464 640.65,1470.3 635.11,1468.05 631.51,1465.12 629.39,1463.16 623.86,1460.36" fill="#1d1d1d" stroke="#1d1d1d" stroke-width="0.3"/>
<polygon points="511.56,1414.78 505.64,1412.93 502.76,1412.86 498.13,1412.45 492.59,1410.2 495.15,1403.9 500.69,1406.15 504.29,1409.08 506.41,1411.04 511.94,1413.84" fill="#1d1d1d" stroke="#1d1d1d" stroke-width="0.3"/>
<text x="620.12" y="1203.2" font-size="29.6" text-anchor="start" textLength="231.39" lengthAdjust="spacingAndGlyphs">4-φ6.3mm [φ0.2″]</text>
<line x1="613.6" y1="1217.5" x2="936.6" y2="1217.5" stroke="#1d1d1d" stroke-width="1.0"/>
<line x1="613.6" y1="1217.5" x2="545.61" y2="1323.78" stroke="#1d1d1d" stroke-width="1.0"/>
<polygon points="569.09,1286.5 571.99,1281.02 572.58,1278.19 573.83,1273.72 577.05,1268.68 582.78,1272.35 579.56,1277.39 576.02,1280.39 573.7,1282.12 569.95,1287.05" fill="#1d1d1d" stroke="#1d1d1d" stroke-width="0.3"/>
<polygon points="566.71,1292.1 563.81,1297.58 563.22,1300.41 561.97,1304.88 558.75,1309.92 553.02,1306.25 556.24,1301.21 559.78,1298.21 562.1,1296.48 565.85,1291.55" fill="#1d1d1d" stroke="#1d1d1d" stroke-width="0.3"/>
<text x="673.92" y="1259.5" font-size="29.6" text-anchor="start" textLength="209.49" lengthAdjust="spacingAndGlyphs">4-M6mm[M0.2″]</text>
<line x1="669.1" y1="1273.5" x2="951.6" y2="1273.5" stroke="#1d1d1d" stroke-width="1.0"/>
<line x1="669.1" y1="1273.4" x2="607.81" y2="1460.98" stroke="#1d1d1d" stroke-width="1.0"/>
<polygon points="615.74,1433.42 617.14,1427.38 616.95,1424.47 616.96,1419.81 618.82,1414.12 625.67,1416.36 623.81,1422.04 621.06,1425.81 619.19,1428.05 616.76,1433.75" fill="#1d1d1d" stroke="#1d1d1d" stroke-width="0.3"/>
<polygon points="614.46,1440.78 613.06,1446.82 613.25,1449.73 613.24,1454.39 611.38,1460.08 604.53,1457.84 606.39,1452.16 609.14,1448.39 611.01,1446.15 613.44,1440.45" fill="#1d1d1d" stroke="#1d1d1d" stroke-width="0.3"/>
</svg>
</body></html>
